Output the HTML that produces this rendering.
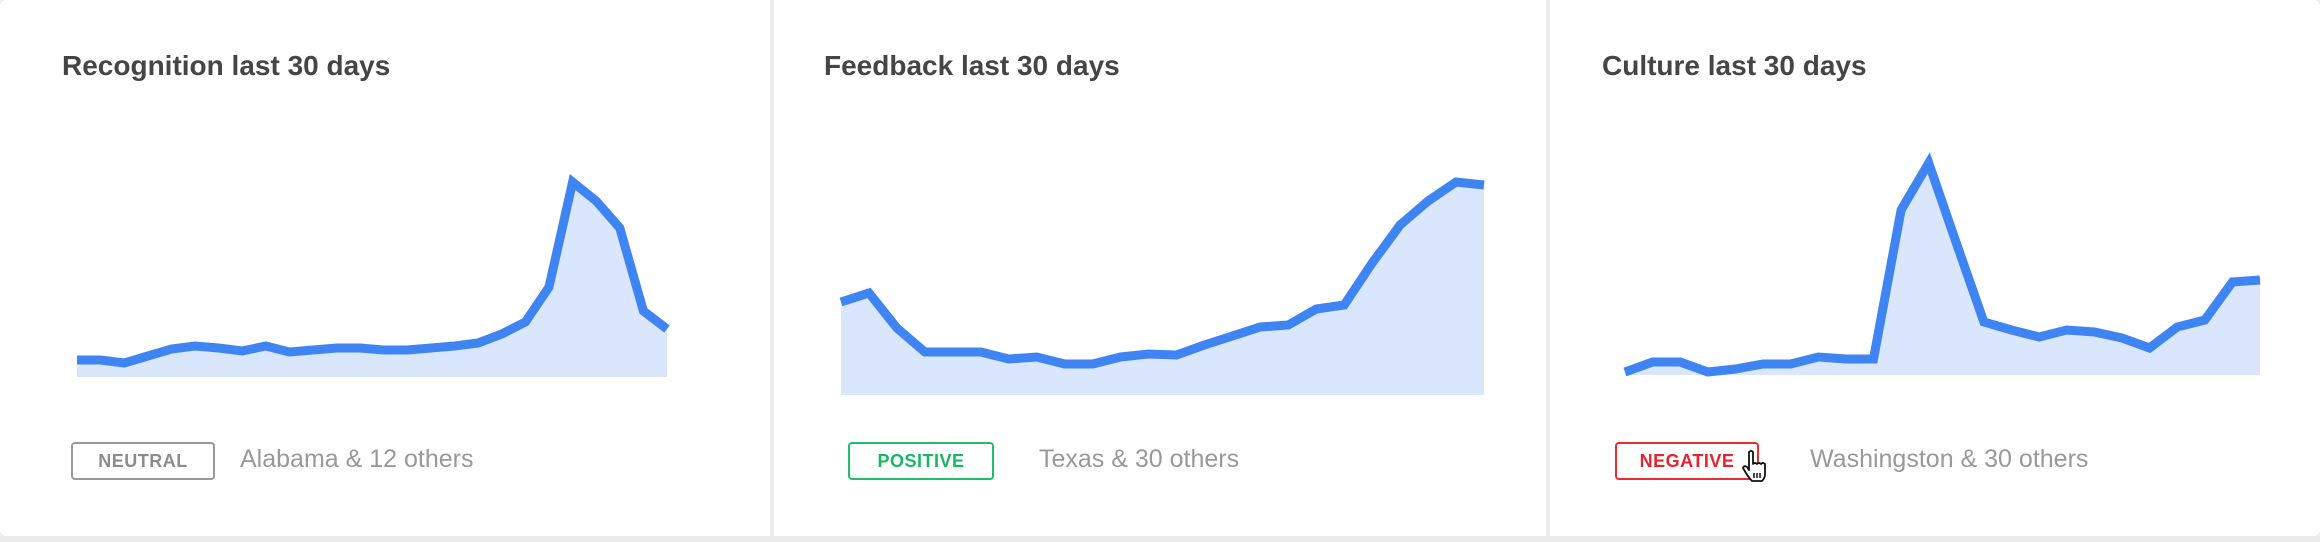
<!DOCTYPE html>
<html><head><meta charset="utf-8">
<style>
html,body{margin:0;padding:0;width:2320px;height:542px;overflow:hidden;background:#ececec;font-family:"Liberation Sans",sans-serif;}
.panel{position:absolute;top:0;height:536px;background:#fff;}
.title{position:absolute;top:50px;font-size:28px;font-weight:bold;color:#454545;white-space:nowrap;}
.badge{position:absolute;top:442px;height:34px;border:2px solid;border-radius:4px;font-size:18px;font-weight:bold;line-height:34px;text-align:center;letter-spacing:0.5px;}
.label{position:absolute;top:445px;font-size:25px;color:#999;white-space:nowrap;}
svg#charts{position:absolute;left:0;top:0;}
</style></head><body>
<div class="panel" style="left:0;width:770px;border-radius:6px 0 0 6px;">
  <div class="title" style="left:62px;">Recognition last 30 days</div>
  <div class="badge" style="left:71px;width:140px;border-color:#999;color:#8c8c8c;">NEUTRAL</div>
  <div class="label" style="left:240px;">Alabama &amp; 12 others</div>
</div>
<div class="panel" style="left:774px;width:772px;">
  <div class="title" style="left:50px;">Feedback last 30 days</div>
  <div class="badge" style="left:74px;width:142px;border-color:#1fbf69;color:#17b862;">POSITIVE</div>
  <div class="label" style="left:265px;">Texas &amp; 30 others</div>
</div>
<div class="panel" style="left:1550px;width:770px;border-radius:0 6px 6px 0;">
  <div class="title" style="left:52px;">Culture last 30 days</div>
  <div class="badge" style="left:65px;width:140px;border-color:#ee2a33;color:#e9232d;">NEGATIVE</div>
  <div class="label" style="left:260px;">Washingston &amp; 30 others</div>
  <svg style="position:absolute;left:192px;top:450px;" width="26" height="34" viewBox="0 0 26 34">
    <path d="M7 2 q2-2 4 0 v12 q2-2 4 0 q2-2 4 0 q2-2 4 0 v10 q0 4-3 7 h-10 q-3-3-6-8 l-3-5 q1-3 4-1 l2 3 z" fill="#fff" stroke="#111" stroke-width="1.8" stroke-linejoin="round"/>
    <path d="M12 23 v5 M15 23 v5 M18 23 v5" stroke="#111" stroke-width="1.5"/>
  </svg>
</div>
<svg id="charts" width="2320" height="542"></svg>
<script>
const recognitionValues=[17,17,14,21,28,31,29,26,31,25,27,29,29,27,27,29,31,34,43,55,90,195,176,149,66,48];
const feedbackValues=[93,102,67,43,43,43,36,38,31,31,38,41,40,50,59,68,70,86,90,132,170,194,213,210];
const cultureValues=[3,13,13,3,6,11,11,18,16,16,165,212,132,53,45,38,45,43,37,27,48,55,93,95];
const charts=[
 {name:'recognition',vals:recognitionValues,x0:77,x1:667,base:377},
 {name:'feedback',vals:feedbackValues,x0:841,x1:1484,base:395},
 {name:'culture',vals:cultureValues,x0:1625,x1:2260,base:375}
];
const svg=document.getElementById('charts');
const NS='http://www.w3.org/2000/svg';
charts.forEach(c=>{
  const n=c.vals.length;
  const xs=i=>c.x0+(c.x1-c.x0)*i/(n-1);
  const ys=v=>c.base-v;
  const pts=c.vals.map((v,i)=>xs(i).toFixed(1)+','+ys(v).toFixed(1));
  const area=document.createElementNS(NS,'polygon');
  area.setAttribute('points',c.x0+','+c.base+' '+pts.join(' ')+' '+c.x1+','+c.base);
  area.setAttribute('fill','#d9e6fc');
  
  
  svg.appendChild(area);
  const line=document.createElementNS(NS,'polyline');
  line.setAttribute('points',pts.join(' '));
  line.setAttribute('fill','none');
  line.setAttribute('stroke','#3f84f3');
  line.setAttribute('stroke-width','9');
  line.setAttribute('stroke-linejoin','miter');
  
  
  svg.appendChild(line);
});
</script>
</body></html>
